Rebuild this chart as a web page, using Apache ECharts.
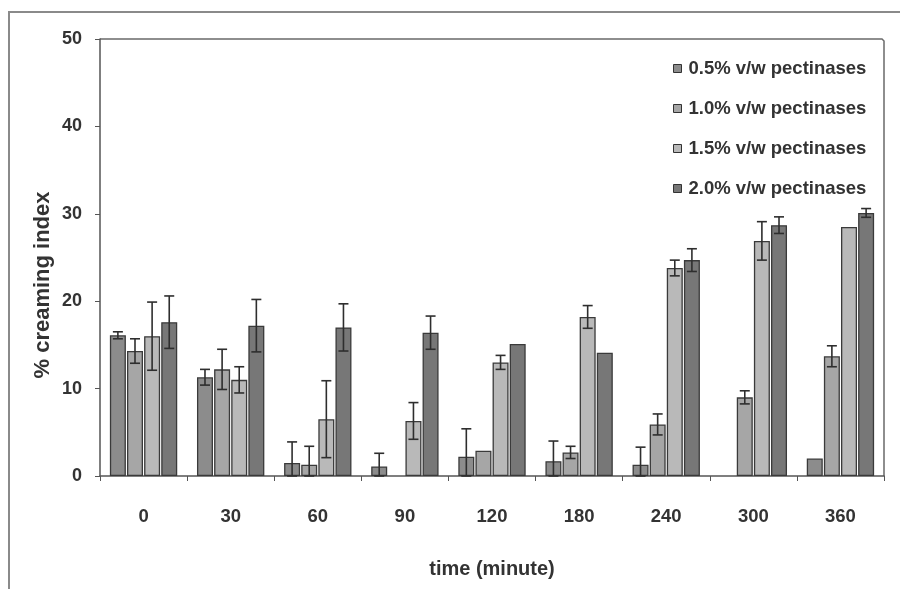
<!DOCTYPE html>
<html>
<head>
<meta charset="utf-8">
<script src="https://cdn.jsdelivr.net/npm/echarts@6/dist/echarts.min.js"></script>
<style>
  html, body { margin: 0; padding: 0; background: #ffffff; }
  #chart { width: 900px; height: 589px; }
</style>
</head>
<body>
<div id="chart"></div>
<script>
// Sampling times (minutes)
const categories = ['0', '30', '60', '90', '120', '180', '240', '300', '360'];

// Mean creaming index (%) for each enzyme dose
const pect05 = [16.1, 11.3, 1.5, 1.1, 2.2, 1.7, 1.3, 0, 2.0];
const pect10 = [14.3, 12.2, 1.3, 0, 2.9, 2.7, 5.9, 9.0, 13.7];
const pect15 = [16.0, 11.0, 6.5, 6.3, 13.0, 18.2, 23.8, 26.9, 28.5];
const pect20 = [17.6, 17.2, 17.0, 16.4, 15.1, 14.1, 24.7, 28.7, 30.1];

// Standard deviations (drawn as +/- error bars)
const err05 = [0.4, 0.9, 2.4, 1.5, 3.2, 2.3, 2.0, 0, 0];
const err10 = [1.4, 2.3, 2.1, 0, 0, 0.7, 1.2, 0.75, 1.2];
const err15 = [3.9, 1.5, 4.4, 2.1, 0.8, 1.3, 0.9, 2.2, 0];
const err20 = [3.0, 3.0, 2.7, 1.9, 0, 0, 1.3, 0.95, 0.5];

const seriesNames = [
  '0.5% v/w pectinases',
  '1.0% v/w pectinases',
  '1.5% v/w pectinases',
  '2.0% v/w pectinases'
];
const yAxisTitle = '% creaming index';
const xAxisTitle = 'time (minute)';

const seriesValues = [pect05, pect10, pect15, pect20];
const seriesErrors = [err05, err10, err15, err20];
const seriesColors = ['#8c8c8c', '#a6a6a6', '#b9b9b9', '#777777'];

const FONT = 'Liberation Sans, Arial, sans-serif';
const BAR_W = 16;
const BAR_GAP = 0.07; // fraction of bar width

const chart = echarts.init(document.getElementById('chart'));

const barSeries = seriesValues.map((vals, i) => ({
  name: seriesNames[i],
  type: 'bar',
  // a zero mean leaves no visible bar, so drop its outline too
  data: vals.map(v => (v === 0 ? { value: 0, itemStyle: { borderWidth: 0 } } : v)),
  barWidth: BAR_W,
  barGap: (BAR_GAP * 100) + '%',
  itemStyle: {
    color: seriesColors[i],
    borderColor: '#3a3a3a',
    borderWidth: 1.3
  },
  z: 2
}));

// Error bars: one custom series per dose, offset to sit over its bar
const errSeries = seriesValues.map((vals, i) => ({
  type: 'custom',
  name: seriesNames[i] + ' error',
  data: vals.map((v, k) => [k, v, seriesErrors[i][k]]),
  z: 5,
  silent: true,
  tooltip: { show: false },
  renderItem: function (params, api) {
    const e = api.value(2);
    if (!e) return null;
    const v = api.value(1);
    const k = api.value(0);
    const step = BAR_W * (1 + BAR_GAP);
    const center = api.coord([k, v]);
    const x = center[0] + (i - 1.5) * step;
    const top = api.coord([k, v + e])[1];
    const bot = api.coord([k, Math.max(v - e, 0)])[1];
    const cap = 5;
    const style = { stroke: '#2e2e2e', lineWidth: 1.6, fill: null };
    return {
      type: 'group',
      children: [
        { type: 'line', shape: { x1: x, y1: top, x2: x, y2: bot }, style: style },
        { type: 'line', shape: { x1: x - cap, y1: top, x2: x + cap, y2: top }, style: style },
        { type: 'line', shape: { x1: x - cap, y1: bot, x2: x + cap, y2: bot }, style: style }
      ]
    };
  }
}));

chart.setOption({
  backgroundColor: '#ffffff',
  animation: false,
  graphic: [
    {
      type: 'polyline',
      shape: { points: [[9, 589], [9, 12], [900, 12]] },
      style: { stroke: '#8a8a8a', lineWidth: 2, fill: null },
      z: 0
    },
    {
      type: 'polyline',
      shape: { points: [[100, 39], [882, 39], [884, 41], [884, 476]] },
      style: { stroke: '#6a6a6a', lineWidth: 1.5, fill: null },
      z: 0
    },
    {
      // y-axis title, set lower than the axis middle
      type: 'text',
      x: 43,
      y: 285,
      rotation: Math.PI / 2,
      style: {
        text: yAxisTitle,
        font: 'bold 22px ' + FONT,
        fill: '#333',
        align: 'center',
        verticalAlign: 'middle'
      },
      z: 10
    }
  ],
  grid: { left: 100, right: 16, top: 39, bottom: 113, containLabel: false },
  legend: {
    data: seriesNames,
    orient: 'vertical',
    left: 667,
    top: 55,
    itemWidth: 8,
    itemHeight: 8,
    itemGap: 21,
    icon: 'rect',
    backgroundColor: '#ffffff',
    padding: [4, 6, 12, 6],
    itemStyle: { borderColor: '#333', borderWidth: 1 },
    textStyle: { fontFamily: FONT, fontWeight: 'bold', fontSize: 18.5, color: '#333', padding: [0, 0, 0, 2] }
  },
  xAxis: {
    type: 'category',
    data: categories,
    name: xAxisTitle,
    nameLocation: 'middle',
    nameGap: 83,
    nameTextStyle: { fontFamily: FONT, fontWeight: 'bold', fontSize: 20, color: '#333' },
    axisLine: { lineStyle: { color: '#555', width: 1.5 } },
    axisTick: { show: true, length: 5, lineStyle: { color: '#555' } },
    axisLabel: { margin: 31, fontFamily: FONT, fontWeight: 'bold', fontSize: 18.5, color: '#333' }
  },
  yAxis: {
    type: 'value',
    min: 0,
    max: 50,
    interval: 10,
    axisLine: { show: true, lineStyle: { color: '#555', width: 1.5 } },
    axisTick: { show: true, length: 5, lineStyle: { color: '#555' } },
    axisLabel: { margin: 18, fontFamily: FONT, fontWeight: 'bold', fontSize: 18, color: '#333' },
    splitLine: { show: false }
  },
  series: barSeries.concat(errSeries)
});
</script>
</body>
</html>
